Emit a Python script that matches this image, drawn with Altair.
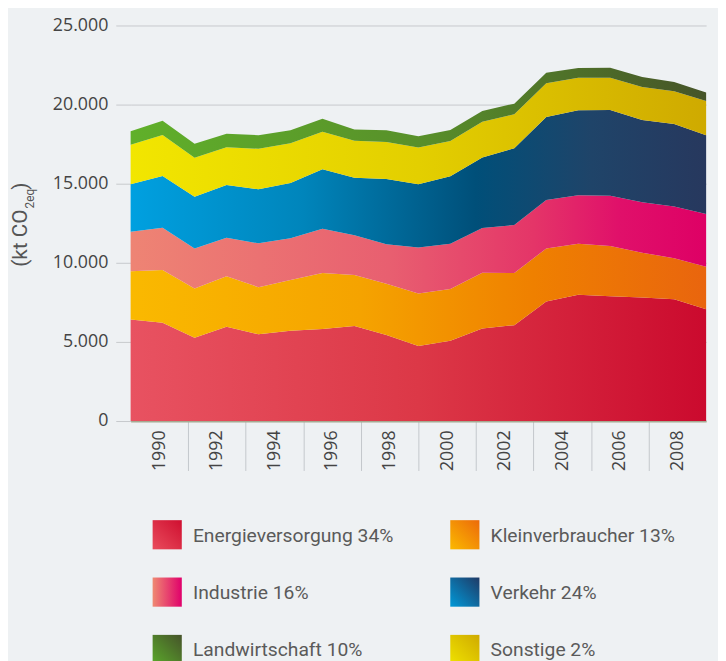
import altair as alt
import pandas as pd

# ---------------- data (kt CO2eq) ----------------
years = list(range(1990, 2009))
categories = ["Energieversorgung", "Kleinverbraucher", "Industrie", "Verkehr", "Sonstige", "Landwirtschaft"]
energie = [6420, 6210, 5270, 5960, 5480, 5710, 5810, 6000, 5440, 4750, 5080, 5850, 6060, 7560, 7980, 7880, 7810, 7690, 7060]
klein = [3040, 3330, 3100, 3190, 2980, 3210, 3540, 3230, 3230, 3310, 3270, 3520, 3290, 3350, 3230, 3190, 2830, 2600, 2690]
industrie = [2500, 2670, 2540, 2440, 2770, 2630, 2810, 2520, 2500, 2900, 2850, 2830, 3040, 3060, 3060, 3170, 3190, 3270, 3330]
verkehr = [3000, 3270, 3270, 3330, 3420, 3500, 3750, 3630, 4130, 4000, 4270, 4460, 4850, 5250, 5380, 5420, 5190, 5210, 4980]
sonstige = [2500, 2600, 2460, 2380, 2560, 2500, 2380, 2330, 2330, 2330, 2230, 2250, 2150, 2130, 2040, 2040, 2100, 2080, 2170]
landwirtschaft = [860, 900, 880, 850, 860, 830, 810, 710, 750, 710, 690, 690, 670, 670, 630, 630, 630, 580, 540]

legend_keys = ["Energieversorgung", "Kleinverbraucher", "Industrie", "Verkehr", "Landwirtschaft", "Sonstige"]
legend_labels = ["Energieversorgung 34%", "Kleinverbraucher 13%", "Industrie 16%", "Verkehr 24%",
                 "Landwirtschaft 10%", "Sonstige 2%"]
axis_years = list(range(1990, 2009, 2))
y_ticks = [0, 5000, 10000, 15000, 20000, 25000]

# ---------------- styles ----------------
area_stops = {
    "Energieversorgung": [(0, "#e85261"), (0.5, "#dc3847"), (1, "#cb0a2e")],
    "Kleinverbraucher": [(0, "#fab900"), (0.4, "#f5a300"), (0.7, "#ef8000"), (1, "#e9650e")],
    "Industrie": [(0, "#ee8474"), (0.45, "#e85f70"), (0.7, "#e43568"), (0.85, "#e0106a"), (1, "#de0065")],
    "Verkehr": [(0, "#00a0e0"), (0.3, "#0085bb"), (0.6, "#004f79"), (0.8, "#1f4469"), (1, "#27385e")],
    "Sonstige": [(0, "#f2e600"), (0.5, "#e3cf00"), (1, "#cfaa00")],
    "Landwirtschaft": [(0, "#60b02a"), (0.5, "#58902a"), (1, "#465428")],
}
swatch_stops = {
    "Energieversorgung": [(0, "#e94c5c"), (1, "#cf0f30")],
    "Kleinverbraucher": [(0, "#fbb900"), (1, "#ec6a0a")],
    "Industrie": [(0, "#ef8a72"), (1, "#e0006b")],
    "Verkehr": [(0, "#0099d8"), (1, "#1f3a66")],
    "Landwirtschaft": [(0, "#5aa82a"), (1, "#46532a")],
    "Sonstige": [(0, "#efe200"), (1, "#cfaa00")],
}
swatch_dir = {
    "Energieversorgung": "diag", "Kleinverbraucher": "diag", "Industrie": "horiz",
    "Verkehr": "diag", "Landwirtschaft": "diag", "Sonstige": "diag",
}

LEGFONT = "Roboto"
TICKFONT = "Open Sans"
GRID = "#c6c9cc"


def grad(stops, direction="horiz"):
    st = [alt.GradientStop(offset=o, color=c) for o, c in stops]
    if direction == "diag":
        return alt.Gradient(gradient="linear", stops=st, x1=0, y1=1, x2=1, y2=0)
    return alt.Gradient(gradient="linear", stops=st, x1=0, y1=0, x2=1, y2=0)


series = [energie, klein, industrie, verkehr, sonstige, landwirtschaft]
rows = []
for order, (cat, vals) in enumerate(zip(categories, series)):
    for yr, v in zip(years, vals):
        rows.append({"year": yr, "cat": cat, "value": v, "order": order})
df = pd.DataFrame(rows)

x_scale = alt.Scale(domain=[1990, 2008], nice=False, zero=False)
y_scale = alt.Scale(domain=[0, 25000], nice=False)

y_axis = alt.Axis(values=y_ticks, labelExpr="replace(format(datum.value, ',d'), ',', '.')",
                  title=None, domain=False, tickSize=15, tickColor=GRID, gridColor=GRID,
                  grid=True, labelFont=TICKFONT, labelFontSize=18, labelColor="#444444",
                  labelPadding=8)

stacked = alt.Chart(df).transform_stack(
    stack="value", groupby=["year"], as_=["y0", "y1"],
    sort=[alt.SortField(field="order", order="ascending")])

areas = []
for i, cat in enumerate(categories):
    areas.append(
        stacked.transform_filter(alt.datum.cat == cat)
        .mark_area(color=grad(area_stops[cat]), interpolate="linear")
        .encode(
            x=alt.X("year:Q", scale=x_scale, axis=None),
            y=alt.Y("y1:Q", scale=y_scale, axis=y_axis if i == 0 else None),
            y2="y0:Q",
        )
    )

band_scale = alt.Scale(domain=[1990, 2010], nice=False, zero=False)
label_layer = alt.Chart(pd.DataFrame({"pos": [y + 1 for y in axis_years]})).mark_rule(opacity=0).encode(
    x=alt.X("pos:Q", scale=band_scale,
            axis=alt.Axis(orient="bottom", values=[y + 1 for y in axis_years],
                          labelExpr="toString(datum.value - 1)", ticks=False, domain=False,
                          grid=False, labelAngle=270, labelFont=TICKFONT, labelFontSize=18,
                          labelColor="#444444", labelPadding=9, title=None))
)
sep_layer = alt.Chart(pd.DataFrame({"pos": axis_years[1:]})).mark_rule(opacity=0).encode(
    x=alt.X("pos:Q", scale=band_scale,
            axis=alt.Axis(orient="bottom", values=axis_years[1:], labels=False, tickSize=50,
                          tickColor="#c3c7cb", tickWidth=1, domain=True, domainColor="#a5aa92",
                          domainWidth=2, grid=False, title=None))
)

# legend (two columns, three rows)
leg_df = pd.DataFrame({
    "key": legend_keys,
    "label": legend_labels,
    "col": [0, 1, 0, 1, 0, 1],
    "row": [0, 0, 1, 1, 2, 2],
})
leg_x = alt.Scale(domain=[0, 1], range=[37, 338])
leg_y = alt.Scale(domain=[0, 2], range=[515, 631])
leg_base = alt.Chart(leg_df)
swatches = []
for key in legend_keys:
    swatches.append(
        leg_base.transform_filter(alt.datum.key == key)
        .mark_square(color=grad(swatch_stops[key], swatch_dir[key]), size=870, opacity=1)
        .encode(x=alt.X("col:Q", scale=leg_x, axis=None),
                y=alt.Y("row:Q", scale=leg_y, axis=None))
    )
leg_text = leg_base.mark_text(align="left", baseline="middle", dx=26, dy=1, font=LEGFONT,
                              fontSize=19.5, color="#5a5a5a").encode(
    x=alt.X("col:Q", scale=leg_x, axis=None),
    y=alt.Y("row:Q", scale=leg_y, axis=None),
    text="label:N",
)

# y title "(kt CO2eq)" with subscript
t1 = alt.Chart(pd.DataFrame({"t": ["(kt CO"]})).mark_text(
    angle=270, align="right", baseline="middle", font=LEGFONT, fontSize=21, color="#555555"
).encode(x=alt.value(-111), y=alt.value(186), text="t:N")
t2 = alt.Chart(pd.DataFrame({"t": ["2eq"]})).mark_text(
    angle=270, align="left", baseline="middle", font=LEGFONT, fontSize=12, color="#555555"
).encode(x=alt.value(-102), y=alt.value(185), text="t:N")
t3 = alt.Chart(pd.DataFrame({"t": [")"]})).mark_text(
    angle=270, align="left", baseline="middle", font=LEGFONT, fontSize=21, color="#555555"
).encode(x=alt.value(-111), y=alt.value(166), text="t:N")

chart = alt.layer(
    *areas, label_layer, sep_layer, *swatches, leg_text, t1, t2, t3
).resolve_scale(x="independent", y="independent").properties(
    width=582, height=400,
    autosize=alt.AutoSizeParams(type="none"),
    padding={"left": 124, "top": 14, "right": 12, "bottom": 240},
    background="#eef1f3",
).configure_view(stroke=None)

chart.save("out.html", embed_options={"renderer": "svg", "actions": False})
